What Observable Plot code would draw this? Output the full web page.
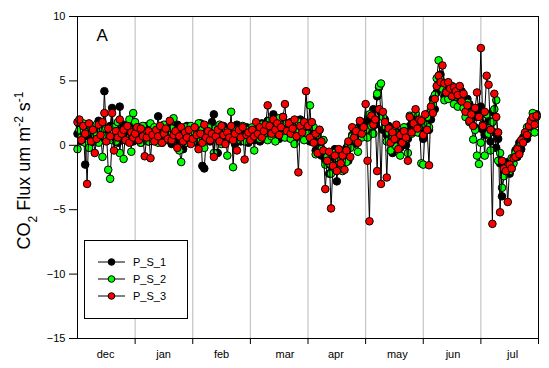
<!DOCTYPE html>
<html><head><meta charset="utf-8">
<script src="https://cdn.jsdelivr.net/npm/d3@7"></script>
<script src="https://cdn.jsdelivr.net/npm/@observablehq/plot@0.6"></script>
<style>
body{margin:0;background:#fff;font-family:"Liberation Sans",Arial,sans-serif;}
#wrap{position:relative;width:549px;height:368px;}
#legend{position:absolute;left:84px;top:240px;}
</style></head><body><div id="wrap"></div>
<script>
// Day index from the start of the record (x axis: ~240 days, dec .. jul)
const days=[0,1,2,3,4,5,6,7,8,9,10,11,12,13,14,15,16,17,18,19,20,21,22,23,24,25,26,27,28,29,
30,31,32,33,34,35,36,37,38,39,40,41,42,43,44,45,46,47,48,49,50,51,52,53,54,55,56,57,58,59,
60,61,62,63,64,65,66,67,68,69,70,71,72,73,74,75,76,77,78,79,80,81,82,83,84,85,86,87,88,89,
90,91,92,93,94,95,96,97,98,99,100,101,102,103,104,105,106,107,108,109,110,111,112,113,114,115,116,117,118,119,
120,121,122,123,124,125,126,127,128,129,130,131,132,133,134,135,136,137,138,139,140,141,142,143,144,145,146,147,148,149,
150,151,152,153,154,155,156,157,158,159,160,161,162,163,164,165,166,167,168,169,170,171,172,173,174,175,176,177,178,179,
180,181,182,183,184,185,186,187,188,189,190,191,192,193,194,195,196,197,198,199,200,201,202,203,204,205,206,207,208,209,
210,211,212,213,214,215,216,217,218,219,220,221,222,223,224,225,226,227,228,229,230,231,232,233,234,235,236,237,238,239];
// CO2 flux (um m-2 s-1)
const ps1=[0.9,1.6,0.3,1.2,-1.5,0.6,1.1,0.2,1.4,0.8,
0.5,1.9,1.2,0.4,4.2,1.0,0.6,1.5,2.9,0.7,
1.3,0.2,3.0,0.9,1.6,0.4,1.1,0.6,1.8,0.3,
0.9,0.5,1.4,0.2,1.0,0.7,1.5,0.3,0.8,1.2,
0.4,1.1,2.25,0.6,0.2,1.3,0.8,0.5,1.4,0.1,
0.9,0.6,1.6,0.3,1.2,-0.3,0.8,1.5,0.4,1.0,
0.6,1.3,0.2,0.9,1.7,-1.6,-1.8,0.5,1.2,0.3,
1.8,2.4,0.7,-0.6,1.0,0.4,1.5,0.2,0.9,1.3,
0.5,1.1,0.1,1.6,0.8,0.3,1.2,0.6,1.4,0.2,
0.8,1.2,0.4,1.5,0.9,0.3,1.7,1.1,0.6,1.9,
1.3,0.7,2.4,1.0,1.6,0.5,1.2,2.2,0.9,1.4,
0.6,1.8,1.1,0.4,1.5,0.9,2.0,1.3,0.7,1.6,
1.0,0.3,1.5,0.6,-0.4,1.1,0.2,-0.8,0.4,-1.2,
-0.6,-2.2,-1.0,-1.6,-0.3,-2.8,-1.1,-0.5,-1.9,-0.8,
-0.2,-1.2,0.3,0.8,0.1,1.2,0.5,1.5,0.7,1.1,
1.8,0.9,2.2,1.4,2.8,1.6,3.8,4.5,2.5,1.2,
2.0,0.8,1.5,0.3,-0.6,0.6,0.1,1.0,-0.2,0.7,
1.2,0.0,0.5,1.5,2.0,1.1,2.4,1.3,1.8,0.9,
0.5,1.7,2.4,1.2,2.0,3.6,2.8,4.1,4.8,5.5,
4.4,3.8,4.6,4.1,3.9,4.5,3.7,4.3,4.0,3.5,
4.2,3.4,2.9,3.6,3.2,2.5,2.8,1.4,2.2,2.6,
3.0,1.2,0.8,2.4,1.9,0.3,2.6,1.0,-0.2,0.5,
-1.4,-3.96,-2.0,-1.6,-1.3,-2.2,-1.8,-1.1,-0.4,-0.9,
0.2,-0.3,0.6,0.9,0.5,1.2,1.6,1.9,2.1,2.4];
const ps2=[-0.3,1.2,0.6,1.7,0.2,1.0,-0.2,1.4,0.5,0.8,
1.6,0.2,1.1,-0.9,0.7,1.3,-1.9,-2.6,0.4,1.4,
0.3,1.8,-0.6,0.9,-1.06,1.2,0.5,2.0,-0.5,2.5,
1.8,0.6,1.2,0.2,1.5,0.8,1.1,0.3,1.7,0.6,
1.4,0.9,0.2,1.2,0.7,1.6,0.4,1.0,0.5,1.3,
2.1,0.8,1.1,-0.4,-1.3,0.6,1.4,0.2,0.9,1.5,
0.3,1.0,0.6,1.7,0.4,1.2,-0.2,0.8,1.4,0.5,
0.9,-0.6,1.3,0.6,1.6,0.1,0.8,1.1,-0.8,0.7,
2.6,-1.7,1.2,0.4,1.0,0.7,1.5,0.3,0.9,1.2,
0.6,1.4,-0.4,0.8,1.1,0.5,1.6,0.9,1.3,0.4,
1.9,0.7,1.2,0.3,1.5,2.1,0.8,1.4,0.6,1.7,
1.2,0.5,1.6,0.1,1.0,1.8,0.7,1.3,0.4,1.5,
0.9,3.1,0.5,1.4,-0.7,0.8,1.2,-0.3,0.4,-1.5,
-0.9,-1.4,-2.2,-0.6,-1.8,-1.0,-1.5,-0.4,-2.0,-0.7,
-1.3,0.1,-0.2,0.7,1.3,0.4,-0.5,1.0,0.6,1.3,
1.2,0.6,2.4,1.5,0.9,2.0,4.0,4.6,4.8,2.2,
1.5,0.3,1.0,-0.4,0.6,1.1,-0.1,0.6,-0.8,0.3,
1.4,0.5,-0.6,2.3,0.9,1.6,2.5,1.0,1.9,-1.4,
-1.5,1.6,2.2,1.4,2.8,3.2,3.9,5.2,6.6,5.1,
4.4,3.5,4.2,3.6,4.0,4.6,3.2,3.8,3.0,4.1,
3.6,2.9,2.2,3.3,1.8,2.5,0.45,1.2,-0.8,-1.45,
0.2,1.6,-0.8,2.4,0.9,-0.4,1.8,2.8,3.5,-1.2,
-0.6,-3.3,-2.4,-1.9,-1.6,-2.0,-1.0,-1.4,-0.6,-0.2,
-0.6,0.2,0.5,0.8,1.4,0.9,1.7,2.5,1.0,2.2];
const ps3=[1.8,2.0,0.4,1.5,0.9,-3.0,1.7,0.3,1.2,-0.6,
0.5,1.6,0.8,1.8,2.5,0.3,1.3,0.7,2.5,-0.4,
1.1,0.6,2.0,0.9,1.2,0.4,1.5,0.2,1.0,0.6,
0.9,1.4,0.4,1.3,0.7,-0.85,0.6,1.1,-1.0,0.8,
0.3,1.2,0.7,1.5,0.2,0.9,1.3,0.5,1.9,0.4,
0.8,1.1,-0.2,0.7,1.4,0.3,1.0,0.6,1.2,0.1,
0.5,1.4,0.8,-0.3,0.9,0.2,1.6,0.6,1.1,0.4,
0.9,-0.9,0.7,1.2,0.3,1.5,0.8,0.1,1.0,0.6,
1.5,0.4,0.9,-0.4,1.2,0.6,1.4,-1.1,0.8,1.0,
0.4,1.2,0.7,1.8,0.9,1.4,0.6,1.1,1.6,3.1,
1.5,0.9,2.0,1.2,1.7,0.8,1.4,2.2,3.2,1.1,
1.7,0.9,1.3,2.0,0.7,-2.1,1.5,1.0,1.8,4.2,
1.5,0.6,1.8,0.2,0.9,-0.6,1.2,0.3,-0.4,-3.4,
-1.2,-0.5,-4.9,-1.6,-0.8,-2.0,-0.3,-1.4,-0.8,-1.9,
-0.4,0.3,-0.9,1.4,0.6,1.1,0.2,1.9,0.9,1.4,
3.2,-1.2,-5.9,2.3,1.6,2.0,-2.0,2.8,-3.0,2.6,
1.8,-2.5,1.3,0.2,1.0,0.5,1.6,-0.3,0.8,0.2,
1.1,0.6,-1.2,2.2,1.0,1.7,2.8,1.3,2.0,1.9,
0.8,2.4,1.2,-1.55,3.0,2.5,3.6,4.6,5.4,4.9,
6.2,4.8,4.1,4.9,4.4,3.8,4.5,4.2,3.9,4.6,
3.4,4.0,2.6,3.1,1.9,2.4,1.5,2.9,4.1,2.2,
7.55,1.5,2.6,5.4,4.7,1.2,-6.1,4.0,2.2,1.0,
-5.2,-1.2,-1.8,-2.0,-4.4,-1.5,-1.8,-1.0,-0.9,-0.3,
-0.7,0.4,0.2,1.0,0.8,1.5,1.9,2.2,1.6,2.3];
const seriesNames=["P_S_1","P_S_2","P_S_3"];
const seriesColors=["#000000","#00ff00","#ff0000"];
const monthLabels=["dec","jan","feb","mar","apr","may","jun","jul"];
const monthLabelDays=[14.6,44.8,75,108,134.5,166.5,195.5,226.5];
const monthTickDays=[30,60,90,120,150,180,210,240];
const yTicks=[-15,-10,-5,0,5,10];
const panelLabel="A";
const ylabel="CO2 Flux um m-2 s-1";

const seriesValues=[ps1,ps2,ps3];
const rows=[];
seriesNames.forEach((s,k)=>days.forEach((d,i)=>rows.push({series:s,day:d,flux:seriesValues[k][i]})));

const font="Liberation Sans, Arial, sans-serif";
const chart=Plot.plot({
  width:549,height:368,marginLeft:77,marginRight:11,marginTop:16,marginBottom:30,
  style:{fontFamily:font,fontSize:"11px",background:"white",color:"black"},
  x:{domain:[0,240]},
  y:{domain:[-15,10]},
  marks:[
    Plot.ruleX(monthTickDays.slice(0,-1),{stroke:"#c4c4c4",strokeWidth:1.2}),
    ...seriesNames.flatMap((s,k)=>{
      const data=rows.filter(r=>r.series===s);
      return [
        Plot.line(data,{x:"day",y:"flux",stroke:"black",strokeWidth:1}),
        Plot.dot(data,{x:"day",y:"flux",r:3.8,fill:seriesColors[k],stroke:"black",strokeWidth:1})
      ];
    }),
    Plot.axisY(yTicks,{tickSize:8,tickPadding:4,label:null,fontSize:11}),
    Plot.axisX(monthTickDays,{tickSize:6,tickFormat:()=>"",label:null}),
    Plot.axisX(monthLabelDays,{tickSize:0,tickPadding:12,tickFormat:d=>monthLabels[monthLabelDays.indexOf(d)],label:null,fontSize:11}),
    Plot.frame({stroke:"black",strokeWidth:1}),
    Plot.text([panelLabel],{frameAnchor:"top-left",dx:19,dy:12,fontSize:17,fontWeight:300}),
    Plot.text([ylabel],{frameAnchor:"left",rotate:-90,textAnchor:"middle",dx:-53,dy:-7,fontSize:18})
  ]
});

d3.select(chart).selectAll("text").filter(function(){return this.textContent===ylabel;}).each(function(){
  const t=d3.select(this); t.text("");
  t.append("tspan").text("CO");
  t.append("tspan").attr("baseline-shift","sub").attr("font-size","12").text("2");
  t.append("tspan").text(" Flux um m");
  t.append("tspan").attr("baseline-shift","super").attr("font-size","12").text("-2");
  t.append("tspan").text(" s");
  t.append("tspan").attr("baseline-shift","super").attr("font-size","12").text("-1");
});

const wrap=document.getElementById("wrap");
wrap.appendChild(chart);

// Legend box
const lg=d3.select(wrap).append("svg").attr("id","legend").attr("width",104).attr("height",80);
lg.append("rect").attr("x",0.5).attr("y",0.5).attr("width",103).attr("height",78).attr("fill","white").attr("stroke","black");
seriesNames.forEach((s,k)=>{
  const yy=22+k*17;
  lg.append("line").attr("x1",14).attr("x2",41).attr("y1",yy).attr("y2",yy).attr("stroke","black");
  lg.append("circle").attr("cx",27.5).attr("cy",yy).attr("r",3.3).attr("fill",seriesColors[k]).attr("stroke","black");
  lg.append("text").attr("x",49).attr("y",yy).attr("dy","0.35em").attr("font-family",font).attr("font-size",11).text(s);
});
</script></body></html>
